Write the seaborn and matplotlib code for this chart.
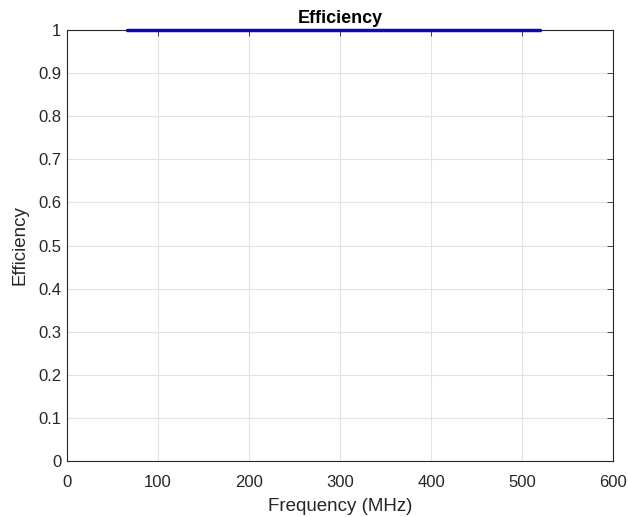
import matplotlib
matplotlib.use("Agg")
import matplotlib.pyplot as plt
import seaborn as sns
import pandas as pd

frequency_mhz = [66, 520]
efficiency = [1.0, 1.0]
x_ticks = [0, 100, 200, 300, 400, 500, 600]
y_ticks = [0, 0.1, 0.2, 0.3, 0.4, 0.5, 0.6, 0.7, 0.8, 0.9, 1]
y_tick_labels = ["0", "0.1", "0.2", "0.3", "0.4", "0.5", "0.6", "0.7", "0.8", "0.9", "1"]

sns.set_theme(style="whitegrid")
plt.rcParams['font.family'] = ['Liberation Sans', 'DejaVu Sans']

df = pd.DataFrame({"Frequency (MHz)": frequency_mhz, "Efficiency": efficiency})

fig = plt.figure(figsize=(6.28, 5.17), dpi=100)
ax = fig.add_axes([67/628, 56/517, 546/628, 431/517])
sns.lineplot(data=df, x="Frequency (MHz)", y="Efficiency", ax=ax,
             color="#0c0cae", linewidth=2.5, clip_on=False, zorder=5)
ax.set_xlim(0, 600)
ax.set_ylim(0, 1)
ax.set_xticks(x_ticks)
ax.set_yticks(y_ticks)
ax.set_yticklabels(y_tick_labels)
ax.grid(True, color="#e3e3e3", linewidth=0.8)
for s in ax.spines.values():
    s.set_color("#262626")
    s.set_linewidth(0.8)
    s.set_visible(True)
ax.tick_params(axis="both", which="both", direction="in", length=4, width=0.6,
               colors="#262626", labelsize=12, top=True, right=True,
               labelcolor="#262626")
ax.tick_params(axis="x", pad=10)
ax.tick_params(axis="y", pad=4)
ax.set_xlabel("Frequency (MHz)", fontsize=13.5, color="#262626", labelpad=6)
ax.set_ylabel("Efficiency", fontsize=13.5, color="#262626", labelpad=7)
ax.set_title("Efficiency", fontsize=13, fontweight="bold", color="black", pad=5)
fig.savefig("out.png", dpi=100, facecolor="white")
